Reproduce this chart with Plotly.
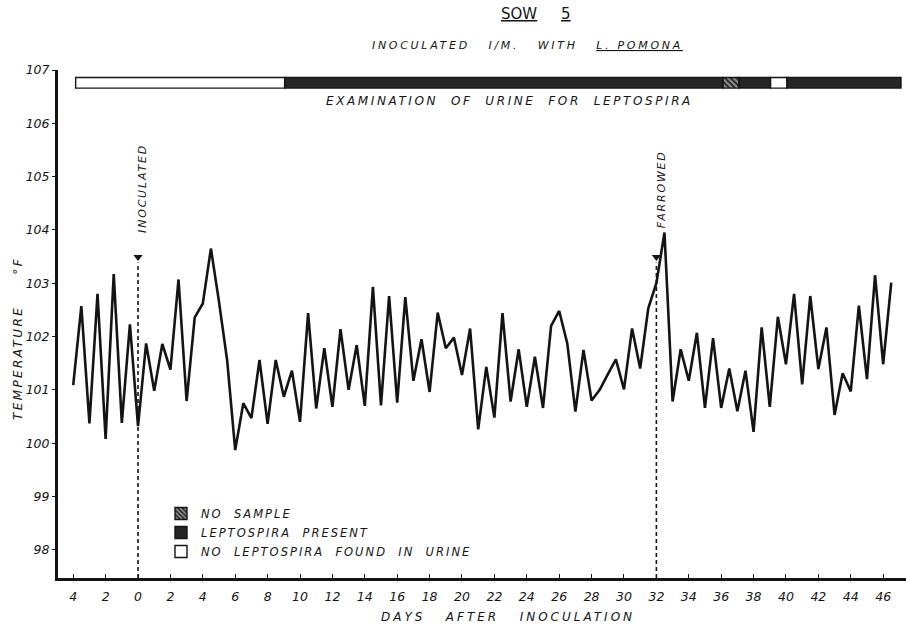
import plotly.graph_objects as go

# ---- data ----
days = [-4.0, -3.5, -3.0, -2.5, -2.0, -1.5, -1.0, -0.5, 0.0, 0.5, 1.0, 1.5, 2.0, 2.5,
        3.0, 3.5, 4.0, 4.5, 5.0, 5.5, 6.0, 6.5, 7.0, 7.5, 8.0, 8.5, 9.0, 9.5, 10.0, 10.5,
        11.0, 11.5, 12.0, 12.5, 13.0, 13.5, 14.0, 14.5, 15.0, 15.5, 16.0, 16.5, 17.0, 17.5,
        18.0, 18.5, 19.0, 19.5, 20.0, 20.5, 21.0, 21.5, 22.0, 22.5, 23.0, 23.5, 24.0, 24.5,
        25.0, 25.5, 26.0, 26.5, 27.0, 27.5, 28.0, 28.5, 29.0, 29.5, 30.0, 30.5, 31.0, 31.5,
        32.0, 32.5, 33.0, 33.5, 34.0, 34.5, 35.0, 35.5, 36.0, 36.5, 37.0, 37.5, 38.0, 38.5,
        39.0, 39.5, 40.0, 40.5, 41.0, 41.5, 42.0, 42.5, 43.0, 43.5, 44.0, 44.5, 45.0, 45.5,
        46.0, 46.5]

temps = [101.09, 102.57, 100.37, 102.80, 100.08, 103.17, 100.38, 102.23, 100.32, 101.87,
         100.98, 101.86, 101.38, 103.07, 100.79, 102.36, 102.62, 103.65, 102.65, 101.56,
         99.87, 100.75, 100.47, 101.56, 100.36, 101.56, 100.87, 101.36, 100.40, 102.44,
         100.65, 101.78, 100.68, 102.14, 101.00, 101.84, 100.70, 102.93, 100.71, 102.76,
         100.76, 102.74, 101.17, 101.95, 100.96, 102.45, 101.78, 101.98, 101.28, 102.15,
         100.26, 101.43, 100.48, 102.44, 100.78, 101.76, 100.68, 101.62, 100.66, 102.20,
         102.48, 101.87, 100.59, 101.75, 100.80, 101.00, 101.29, 101.57, 101.01, 102.15,
         101.40, 102.53, 103.00, 103.95, 100.78, 101.76, 101.17, 102.07, 100.66, 101.97,
         100.66, 101.40, 100.60, 101.36, 100.21, 102.17, 100.68, 102.37, 101.48, 102.80,
         101.10, 102.76, 101.39, 102.17, 100.53, 101.31, 100.97, 102.58, 101.20, 103.15,
         101.48, 103.01]

# urine examination for leptospira
urine_start = [-3.85, 9.05, 36.1, 37.1, 39.05, 40.05]
urine_end = [9.05, 36.1, 37.1, 39.05, 40.05, 47.1]
urine_status = ["none", "present", "nosample", "present", "none", "present"]

status_order = ["nosample", "present", "none"]
status_labels = {"nosample": "NO\u00a0 SAMPLE",
                 "present": "LEPTOSPIRA\u00a0 PRESENT",
                 "none": "NO\u00a0 LEPTOSPIRA\u00a0 FOUND\u00a0 IN\u00a0 URINE"}

event_days = [0, 32]
event_labels = ["INOCULATED", "FARROWED"]
event_marker_temp = 103.49

x_tickvals = list(range(-4, 47, 2))
x_ticktext = [str(abs(v)) for v in x_tickvals]
y_tickvals = [98, 99, 100, 101, 102, 103, 104, 105, 106, 107]

XR = [-4.94, 47.41]
YR = [97.47, 107.0]
BAR_Y = 106.76

FONT = "DejaVu Sans"
INK = "#141414"


def spaced(text, ls):
    return '<span style="letter-spacing:%spx">%s</span>' % (ls, text)


fig = go.Figure()

# urine bar
styles = {
    "none": dict(color="white", line=dict(color=INK, width=1.4)),
    "present": dict(color="#262626", line=dict(color=INK, width=1.4)),
    "nosample": dict(color="#262626", line=dict(color=INK, width=1.4),
                     pattern=dict(shape="\\", fgcolor="white", bgcolor="#262626",
                                  size=4, solidity=0.5)),
}
for st in status_order:
    idx = [i for i, s in enumerate(urine_status) if s == st]
    fig.add_trace(go.Bar(
        orientation="h",
        y=[BAR_Y] * len(idx),
        base=[urine_start[i] for i in idx],
        x=[urine_end[i] - urine_start[i] for i in idx],
        width=0.2,
        marker=styles[st],
        name=spaced(status_labels[st], 2.0),
        showlegend=True,
        hoverinfo="skip",
    ))

# temperature line
fig.add_trace(go.Scatter(x=days, y=temps, mode="lines",
                         line=dict(color=INK, width=2.6),
                         showlegend=False, hoverinfo="skip"))

# event markers
fig.add_trace(go.Scatter(x=event_days, y=[event_marker_temp] * len(event_days),
                         mode="markers",
                         marker=dict(symbol="triangle-down", size=8, color=INK),
                         showlegend=False, hoverinfo="skip"))

shapes = []
for d in event_days:
    shapes.append(dict(type="line", xref="x", yref="y", x0=d, x1=d,
                       y0=YR[0], y1=event_marker_temp - 0.1,
                       line=dict(color=INK, width=1.6, dash="4px,3px")))

annotations = []
for d, lab in zip(event_days, event_labels):
    annotations.append(dict(x=d, y=104.77, xref="x", yref="y", text=spaced(lab, 1.8),
                            textangle=-90, showarrow=False, xshift=5,
                            font=dict(family=FONT, size=11, style="italic", color=INK)))

# titles
annotations.append(dict(x=536, y=14, xref="paper", yref="paper",
                        text="<u>SOW</u>\u00a0\u00a0\u00a0\u00a0 <u>5</u>", showarrow=False))
annotations.append(dict(x=527, y=45, text=spaced(
    "INOCULATED\u00a0\u00a0 I/M.\u00a0\u00a0 WITH\u00a0\u00a0 <u>L. POMONA</u>", 2.7)))
annotations.append(dict(x=509, y=101, text=spaced(
    "EXAMINATION\u00a0 OF\u00a0 URINE\u00a0 FOR\u00a0 LEPTOSPIRA", 2.6)))
annotations.append(dict(x=508, y=617, text=spaced(
    "DAYS\u00a0\u00a0 AFTER\u00a0\u00a0 INOCULATION", 3.0)))
annotations.append(dict(x=18, y=339, text=spaced(
    "TEMPERATURE\u00a0\u00a0\u00a0\u00a0 \u00b0F", 2.4), textangle=-90))

W, H = 906, 630
L, R, T, B = 58, 0, 70, 52
pw, ph = W - L - R, H - T - B
fixed = []
for a in annotations:
    if a.get("xref") == "x":
        fixed.append(a)
        continue
    px, py = a["x"], a["y"]
    a = dict(a)
    a["xref"] = "paper"
    a["yref"] = "paper"
    a["x"] = (px - L) / pw
    a["y"] = (H - B - py) / ph
    a["xanchor"] = "center"
    a["yanchor"] = "middle"
    a["showarrow"] = False
    if "font" not in a:
        a["font"] = dict(family=FONT, size=12, style="italic", color=INK)
    fixed.append(a)
# title font: upright, larger
fixed[len(event_days)]["font"] = dict(family=FONT, size=15, color=INK)
fixed[len(event_days) + 1]["font"] = dict(family=FONT, size=11, style="italic", color=INK)

fig.update_layout(
    width=W, height=H,
    margin=dict(l=L, r=R, t=T, b=B, pad=0),
    paper_bgcolor="white", plot_bgcolor="white",
    barmode="overlay",
    showlegend=True,
    legend=dict(x=(161 - L) / pw, y=(H - B - 499) / ph, xanchor="left", yanchor="top",
                bgcolor="rgba(0,0,0,0)", borderwidth=0, traceorder="normal",
                font=dict(family=FONT, size=11.5, style="italic", color=INK),
                tracegroupgap=0),
    shapes=shapes,
    annotations=fixed,
    xaxis=dict(range=XR, showgrid=False, zeroline=False, showline=True,
               linecolor=INK, linewidth=2.5, ticks="inside", ticklen=4,
               tickwidth=1.2, tickcolor=INK, tickvals=x_tickvals, ticktext=x_ticktext,
               ticklabelstandoff=5,
               tickfont=dict(family=FONT, size=12.5, style="italic", color=INK)),
    yaxis=dict(range=YR, showgrid=False, zeroline=False, showline=True,
               linecolor=INK, linewidth=3, ticks="outside", ticklen=3,
               tickwidth=1.2, tickcolor=INK, tickvals=y_tickvals,
               tickfont=dict(family=FONT, size=12.5, style="italic", color=INK)),
)

fig.write_html("out.html")
